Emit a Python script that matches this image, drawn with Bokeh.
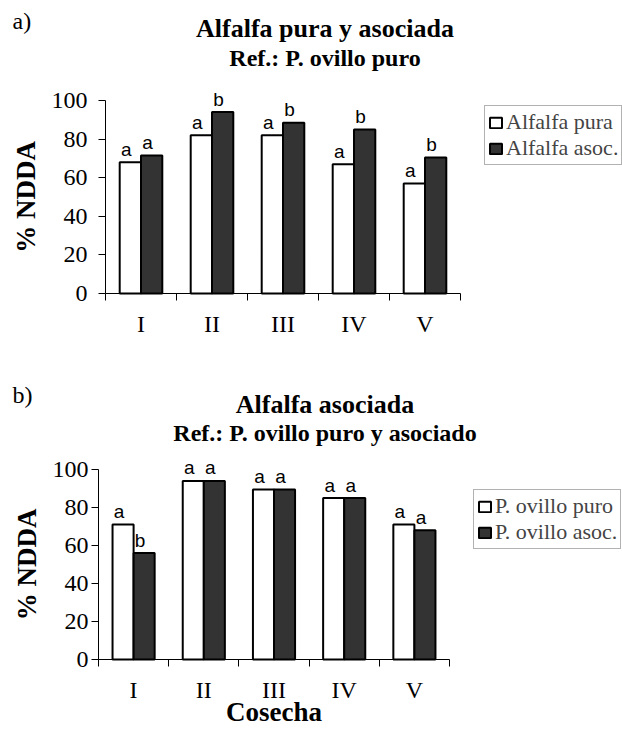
from bokeh.plotting import figure
from bokeh.models import Range1d, FixedTicker, Legend, LegendItem, Label, ColumnDataSource
from bokeh.layouts import column
from bokeh.embed import file_html
from bokeh.resources import INLINE
from bokeh.core.properties import value

# ---- data ----
cosechas = ["I", "II", "III", "IV", "V"]
y_ticks = [0, 20, 40, 60, 80, 100]

a_tag = "a)"
a_title = "Alfalfa pura y asociada"
a_subtitle = "Ref.: P. ovillo puro"
a_names = ["Alfalfa pura", "Alfalfa asoc."]
a_pura = [68, 82, 82, 67, 57]
a_asoc = [71.5, 94, 88.5, 85, 70.5]
a_let_pura = ["a", "a", "a", "a", "a"]
a_let_asoc = ["a", "b", "b", "b", "b"]

b_tag = "b)"
b_title = "Alfalfa asociada"
b_subtitle = "Ref.: P. ovillo puro y asociado"
b_names = ["P. ovillo puro", "P. ovillo asoc."]
b_puro = [71, 94, 89.5, 85, 71]
b_asoc = [56, 94, 89.5, 85, 68]
b_let_puro = ["a", "a", "a", "a", "a"]
b_let_asoc = ["b", "a", "a", "a", "a"]
x_label_b = "Cosecha"

SERIF = "Liberation Serif"
SANS = "Liberation Sans"
DARK = "#333333"
W = 622


def panel(cfg):
    H = cfg["H"]
    ox, oy = cfg["origin"]          # canvas pixel of (x=0, y=0)
    xpx, ypx = cfg["xpx"], cfg["ypx"]  # pixels per unit
    n = len(cosechas)
    p = figure(width=W, height=H, output_backend="svg", toolbar_location=None,
               title=None,
               x_range=Range1d(-ox / xpx, (W - ox) / xpx),
               y_range=Range1d(-(H - oy) / ypx, oy / ypx),
               min_border_left=0, min_border_right=0, min_border_top=0,
               min_border_bottom=0)
    p.outline_line_color = None
    p.grid.visible = False
    p.background_fill_color = "white"
    p.border_fill_color = "white"

    def X(px):
        return (px - ox) / xpx

    def Y(py):
        return (oy - py) / ypx

    centers = [i + 0.5 for i in range(n)]
    w = 0.3
    src = ColumnDataSource(dict(
        x1=[c - w / 2 for c in centers], x2=[c + w / 2 for c in centers],
        v1=cfg["v1"], v2=cfg["v2"], l1=cfg["l1"], l2=cfg["l2"]))
    r1 = p.vbar(x="x1", top="v1", width=w, source=src, fill_color="white",
                line_color="black", line_width=2)
    r2 = p.vbar(x="x2", top="v2", width=w, source=src, fill_color=DARK,
                line_color="black", line_width=2)
    for xs, ys, ls in (("x1", "v1", "l1"), ("x2", "v2", "l2")):
        p.text(x=xs, y=ys, text=ls, source=src, text_font=value(SANS),
               text_font_size="19px", text_align="center",
               text_baseline="alphabetic", x_offset=-4, y_offset=-13,
               text_color="black")

    # y axis (drawn at x = 0)
    ya = p.yaxis[0]
    ya.fixed_location = 0
    ya.ticker = FixedTicker(ticks=y_ticks)
    ya.bounds = (0, 100)
    ya.major_tick_out = 7
    ya.major_tick_in = 0
    ya.minor_tick_line_color = None
    ya.major_label_standoff = cfg["tick_standoff"]
    ya.major_label_text_font = SERIF
    ya.major_label_text_font_size = "24px"
    ya.major_label_text_color = "black"
    ya.axis_line_color = "black"
    ya.major_tick_line_color = "black"
    ya.axis_label = "% NDDA"
    ya.axis_label_text_font = SERIF
    ya.axis_label_text_font_style = "bold"
    ya.axis_label_text_font_size = "27px"
    ya.axis_label_text_color = "black"
    ya.axis_label_standoff = 8

    # x axis (drawn at y = 0): labels at category centres, ticks at boundaries
    xa = p.xaxis[0]
    xa.fixed_location = 0
    xa.ticker = FixedTicker(ticks=centers, minor_ticks=list(range(n + 1)))
    xa.major_label_overrides = {c: s for c, s in zip(centers, cosechas)}
    xa.bounds = (0, n)
    xa.major_tick_out = 0
    xa.major_tick_in = 0
    xa.major_tick_line_color = None
    xa.minor_tick_out = 7
    xa.minor_tick_in = 0
    xa.minor_tick_line_color = "black"
    xa.axis_line_color = "black"
    xa.major_label_standoff = 10
    xa.major_label_text_font = SERIF
    xa.major_label_text_font_size = "24px"
    xa.major_label_text_color = "black"
    if cfg.get("xlabel"):
        xa.axis_label = cfg["xlabel"]
        xa.axis_label_text_font = SERIF
        xa.axis_label_text_font_style = "bold"
        xa.axis_label_text_font_size = "27px"
        xa.axis_label_text_color = "black"
        xa.axis_label_standoff = -9

    lx, ltop, lbot = cfg["legend_box"]
    legend = Legend(items=[LegendItem(label=cfg["names"][0], renderers=[r1]),
                           LegendItem(label=cfg["names"][1], renderers=[r2])],
                    location=(lx, H - lbot), margin=0, padding=3, spacing=0,
                    label_height=26, glyph_width=15, glyph_height=13,
                    label_standoff=3, label_text_font=SERIF,
                    label_text_font_size="22px", border_line_color="#666666",
                    border_line_width=1, background_fill_alpha=1)
    p.add_layout(legend)

    tx, tb, sb, tagb, cx = cfg["text_pos"]
    p.add_layout(Label(x=X(cx), y=Y(tb), text=cfg["title"], text_font=SERIF,
                       text_font_style="bold", text_font_size="26px",
                       text_align="center", text_baseline="alphabetic",
                       text_color="black"))
    p.add_layout(Label(x=X(cx), y=Y(sb), text=cfg["subtitle"], text_font=SERIF,
                       text_font_style="bold", text_font_size="24px",
                       text_align="center", text_baseline="alphabetic",
                       text_color="black"))
    p.add_layout(Label(x=X(tx), y=Y(tagb), text=cfg["tag"], text_font=SERIF,
                       text_font_size="24px", text_align="left",
                       text_baseline="alphabetic", text_color="black"))
    return p


pa = panel(dict(H=368, origin=(105, 293), xpx=71.0, ypx=1.93,
                v1=a_pura, v2=a_asoc, l1=a_let_pura, l2=a_let_asoc,
                names=a_names, title=a_title, subtitle=a_subtitle, tag=a_tag,
                tick_standoff=11, legend_box=(484, 102, 165),
                text_pos=(12, 28, 57, 20, 324.5)))
pb = panel(dict(H=361, origin=(98, 291), xpx=70.2, ypx=1.90,
                v1=b_puro, v2=b_asoc, l1=b_let_puro, l2=b_let_asoc,
                names=b_names, title=b_title, subtitle=b_subtitle, tag=b_tag,
                tick_standoff=3, legend_box=(473, 119, 181),
                text_pos=(12, 36, 64, 26, 324.5), xlabel=x_label_b))

layout = column(pa, pb, spacing=0)
open("out.html", "w").write(file_html(layout, INLINE))
